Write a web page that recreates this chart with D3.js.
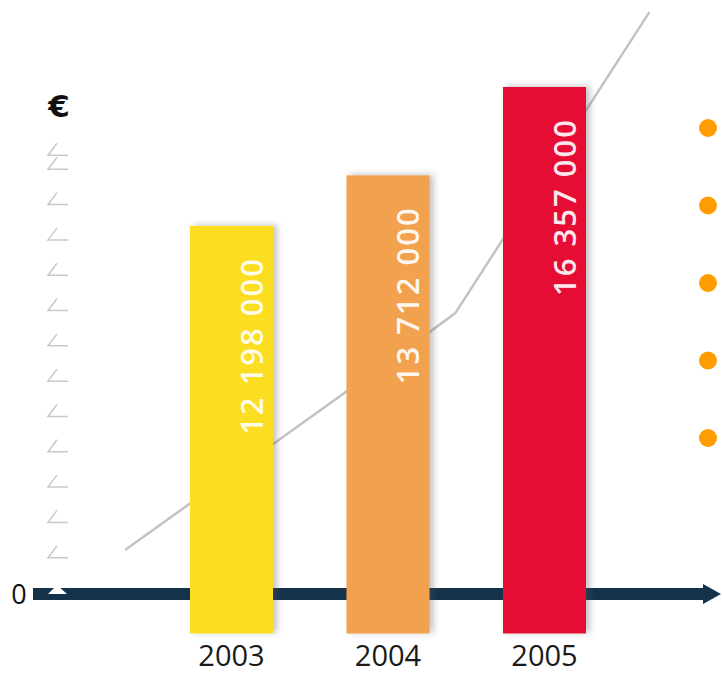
<!DOCTYPE html>
<html>
<head>
<meta charset="utf-8">
<script src="https://cdn.jsdelivr.net/npm/d3@7"></script>
<style>
  html, body { margin: 0; padding: 0; background: #ffffff; }
  svg { display: block; }
</style>
</head>
<body>
<svg id="chart" width="722" height="673"></svg>
<script>
// ---- data ----
const years = [2003, 2004, 2005];
const values = [12198000, 13712000, 16357000];
const valueLabels = ["12 198 000", "13 712 000", "16 357 000"];
const barColors = ["#FBDD22", "#F2A14F", "#E60A36"];
// decorative trend line (year position, value)
const trendYears = [2002.32, 2004.30, 2004.43, 2005.67];
const trendValues = [2500000, 9140000, 9590000, 18600000];
// decorative ticks on the left scale (units)
const leftTicks = [1, 2, 3, 4, 5, 6, 7, 8, 9, 10, 11, 12, 12.4];
const bullets = [1, 2, 3, 4, 5];
const unitLabel = "€";
const zeroLabel = "0";

// ---- scales ----
const svg = d3.select("#chart");
const x = d3.scaleLinear().domain([2003, 2005]).range([231.5, 544.5]);
const y = d3.scaleLinear().domain([0, 16357000]).range([633.5, 87]);
const tickScale = d3.scaleLinear().domain([0, 13]).range([593, 134]);
const bulletScale = d3.scaleLinear().domain([1, 5]).range([128, 438]);
const barWidth = 83;

const defs = svg.append("defs");
const f = defs.append("filter").attr("id", "shadow")
  .attr("x", "-20%").attr("y", "-10%").attr("width", "150%").attr("height", "130%");
f.append("feDropShadow").attr("dx", 4).attr("dy", -1).attr("stdDeviation", 3)
  .attr("flood-color", "#555").attr("flood-opacity", 0.35);

// left decorative scale
const tg = svg.append("g").attr("stroke", "#c9c9c9").attr("stroke-width", 1.5).attr("fill", "none");
leftTicks.forEach(t => {
  const yy = tickScale(t);
  tg.append("path").attr("d", `M57,${yy - 12} L48,${yy} L68,${yy}`);
});

svg.append("text").attr("x", 59).attr("y", 117).attr("text-anchor", "middle")
  .attr("font-family", "'DejaVu Sans', sans-serif").attr("font-size", 31).attr("font-weight", 600)
  .attr("fill", "#111").text(unitLabel);

// x axis
const axisY = y(0) - 39.5;
svg.append("line").attr("x1", 33).attr("x2", 704).attr("y1", axisY).attr("y2", axisY)
  .attr("stroke", "#14334B").attr("stroke-width", 12);
svg.append("path").attr("d", `M703,${axisY - 10} L721,${axisY} L703,${axisY + 10} Z`).attr("fill", "#14334B");
svg.append("path").attr("d", `M57,${axisY - 9} L48,${axisY} L67,${axisY} Z`).attr("fill", "#ffffff");
svg.append("text").attr("x", 19).attr("y", axisY + 10).attr("text-anchor", "middle")
  .attr("font-family", "'Open Sans', sans-serif").attr("font-size", 27).attr("fill", "#111").text(zeroLabel);

// trend line
const line = d3.line().x(d => x(d[0])).y(d => y(d[1]));
svg.append("path").datum(trendYears.map((yr, i) => [yr, trendValues[i]]))
  .attr("d", line).attr("fill", "none").attr("stroke", "#c3c3c3").attr("stroke-width", 2.5);

// bars
svg.selectAll("rect.bar").data(years).enter().append("rect")
  .attr("class", "bar")
  .attr("x", d => x(d) - barWidth / 2)
  .attr("width", barWidth)
  .attr("y", (d, i) => y(values[i]))
  .attr("height", (d, i) => y(0) - y(values[i]))
  .attr("fill", (d, i) => barColors[i])
  .attr("filter", "url(#shadow)");

// value labels (rotated)
svg.selectAll("text.val").data(years).enter().append("text")
  .attr("class", "val")
  .attr("transform", (d, i) => `translate(${x(d) + 31},${y(values[i]) + 31}) rotate(-90)`)
  .attr("text-anchor", "end")
  .attr("font-family", "'Open Sans', sans-serif").attr("font-size", 31)
  .attr("font-weight", 600)
  .attr("letter-spacing", 2)
  .attr("fill", "#ffffff").attr("fill-opacity", 0.93)
  .text((d, i) => valueLabels[i]);

// year labels
svg.selectAll("text.year").data(years).enter().append("text")
  .attr("class", "year")
  .attr("x", d => x(d)).attr("y", 666).attr("text-anchor", "middle")
  .attr("font-family", "'Open Sans', sans-serif").attr("font-size", 29)
  .attr("fill", "#1a1a1a").text(d => d);

// bullets on the right
svg.selectAll("circle.bullet").data(bullets).enter().append("circle")
  .attr("class", "bullet")
  .attr("cx", 708).attr("cy", d => bulletScale(d)).attr("r", 9)
  .attr("fill", "#FF9C00");
</script>
</body>
</html>
